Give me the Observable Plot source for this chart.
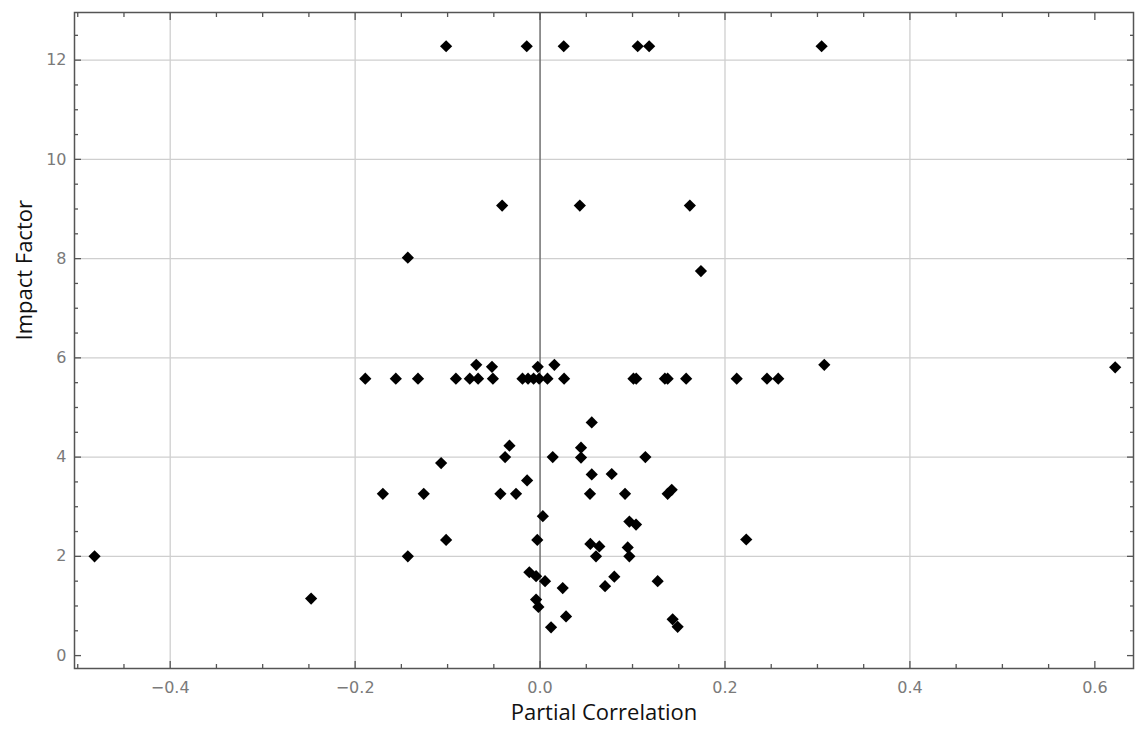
<!DOCTYPE html>
<html>
<head>
<meta charset="utf-8">
<script src="https://cdn.jsdelivr.net/npm/d3@7"></script>
<script src="https://cdn.jsdelivr.net/npm/@observablehq/plot@0.6"></script>
<style>
  html, body { margin: 0; padding: 0; background: #fff; }
</style>
</head>
<body>
<div id="chart"></div>
<script>
// Partial correlation (x) vs impact factor (y)
const partialCorrelation = [
  -0.1016, -0.0144, 0.0256, 0.1056, 0.118, 0.3045,
  -0.041, 0.043, 0.162,
  -0.143, 0.174,
  -0.189, -0.156, -0.132, -0.091, -0.076, -0.067, -0.051, -0.019, -0.013, -0.007, -0.001, 0.008, 0.026,
  0.101, 0.104, 0.135, 0.138, 0.158, 0.2127, 0.2454, 0.2576,
  -0.069, -0.052, -0.0025, 0.0155, 0.3074, 0.622,
  0.0559, -0.0331, -0.0378, -0.107, 0.0137, 0.0443, 0.0443, 0.1139, 0.0559, 0.0775, -0.014,
  -0.1258, -0.0429, -0.026, 0.054, 0.0919, 0.138, 0.1424, -0.170, 0.003, 0.0966, 0.1038,
  -0.1016, -0.003, 0.0544, 0.0641, 0.0948, 0.0605, 0.0966, -0.0116, -0.0043, 0.0054, 0.0245,
  0.0803, 0.0703, 0.1272, -0.0043, -0.0018, 0.0281, 0.0119, 0.1434, 0.1488, 0.223, -0.143,
  -0.4818, -0.2476
];
const impactFactor = [
  12.28, 12.28, 12.28, 12.28, 12.28, 12.28,
  9.07, 9.07, 9.07,
  8.02, 7.75,
  5.58, 5.58, 5.58, 5.58, 5.58, 5.58, 5.58, 5.58, 5.58, 5.58, 5.58, 5.58, 5.58,
  5.58, 5.58, 5.58, 5.58, 5.58, 5.58, 5.58, 5.58,
  5.86, 5.82, 5.82, 5.86, 5.86, 5.81,
  4.70, 4.23, 4.0, 3.88, 4.0, 4.19, 3.99, 4.0, 3.65, 3.66, 3.53,
  3.26, 3.26, 3.26, 3.26, 3.26, 3.26, 3.34, 3.26, 2.81, 2.70, 2.64,
  2.33, 2.33, 2.25, 2.20, 2.18, 2.0, 2.0, 1.68, 1.60, 1.50, 1.36,
  1.59, 1.40, 1.50, 1.13, 0.98, 0.79, 0.57, 0.73, 0.58, 2.34, 2.0,
  2.0, 1.15
];

const xMajorTicks = [-0.4, -0.2, 0, 0.2, 0.4, 0.6];
const xMinorTicks = [-0.5, -0.45, -0.35, -0.3, -0.25, -0.15, -0.1, -0.05, 0.05, 0.1, 0.15, 0.25, 0.3, 0.35, 0.45, 0.5, 0.55];
const xGrid = [-0.4, -0.2, 0.2, 0.4];
const yMajorTicks = [0, 2, 4, 6, 8, 10, 12];
const yMinorTicks = [0.5, 1, 1.5, 2.5, 3, 3.5, 4.5, 5, 5.5, 6.5, 7, 7.5, 8.5, 9, 9.5, 10.5, 11, 11.5, 12.5];
const yGrid = [2, 4, 6, 8, 10, 12];
const xTitle = "Partial Correlation";
const yTitle = "Impact Factor";

const points = partialCorrelation.map((x, i) => ({x, y: impactFactor[i]}));

const tickColor = "#555";
const labelColor = "#7a7a7a";
const fmtX = d => d === 0 ? "0.0" : d3.format(".1f")(d).replace("-", "\u2212");

const chart = Plot.plot({
  width: 1136,
  height: 729,
  marginLeft: 74,
  marginRight: 3,
  marginTop: 12,
  marginBottom: 61,
  style: {fontFamily: "DejaVu Sans", background: "#fff"},
  x: {domain: [-0.5035, 0.6418]},
  y: {domain: [-0.26, 12.96]},
  marks: [
    Plot.ruleX(xGrid, {stroke: "#cfcfcf", strokeWidth: 1.3}),
    Plot.ruleY(yGrid, {stroke: "#cfcfcf", strokeWidth: 1.3}),
    Plot.ruleX([0], {stroke: "#707070", strokeWidth: 1.5}),
    // bottom axis
    Plot.axisX({anchor: "bottom", ticks: xMajorTicks, tickSize: -7, tickPadding: 20, tickFormat: fmtX,
      fontSize: 16, color: labelColor, stroke: tickColor, strokeWidth: 1.3, label: null}),
    Plot.axisX({anchor: "bottom", ticks: xMinorTicks, tickSize: -4, text: null, stroke: tickColor, strokeWidth: 1.3, label: null}),
    // top axis
    Plot.axisX({anchor: "top", ticks: xMajorTicks, tickSize: -7, text: null, stroke: tickColor, strokeWidth: 1.3, label: null}),
    Plot.axisX({anchor: "top", ticks: xMinorTicks, tickSize: -4, text: null, stroke: tickColor, strokeWidth: 1.3, label: null}),
    // left axis
    Plot.axisY({anchor: "left", ticks: yMajorTicks, tickSize: -7, tickPadding: 15, tickFormat: d => String(d),
      fontSize: 16, color: labelColor, stroke: tickColor, strokeWidth: 1.3, label: null}),
    Plot.axisY({anchor: "left", ticks: yMinorTicks, tickSize: -4, text: null, stroke: tickColor, strokeWidth: 1.3, label: null}),
    // right axis
    Plot.axisY({anchor: "right", ticks: yMajorTicks, tickSize: -7, text: null, stroke: tickColor, strokeWidth: 1.3, label: null}),
    Plot.axisY({anchor: "right", ticks: yMinorTicks, tickSize: -4, text: null, stroke: tickColor, strokeWidth: 1.3, label: null}),
    Plot.frame({stroke: tickColor, strokeWidth: 1.5}),
    Plot.dot(points, {x: "x", y: "y", symbol: "diamond2", r: 5.5, fill: "#000", stroke: "none"}),
    Plot.text([xTitle], {frameAnchor: "bottom", dy: 51, fontSize: 22, fontFamily: "Open Sans", fill: "#111"}),
    Plot.text([yTitle], {frameAnchor: "left", dx: -50, rotate: -90, fontSize: 22, fontFamily: "Open Sans", fill: "#111"})
  ]
});

document.getElementById("chart").appendChild(chart);
</script>
</body>
</html>
